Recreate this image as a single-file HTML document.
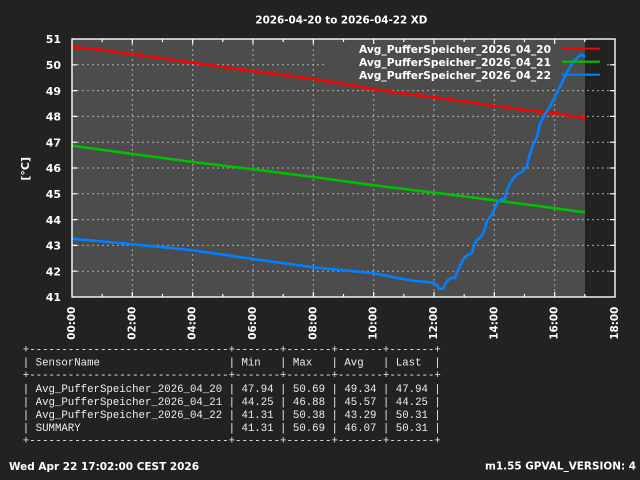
<!DOCTYPE html>
<html><head><meta charset="utf-8"><style>
html,body{margin:0;padding:0;background:#222222;}
svg{display:block;}
</style></head><body>
<svg width="640" height="480" viewBox="0 0 640 480" xmlns="http://www.w3.org/2000/svg">
<rect x="0" y="0" width="640" height="480" fill="#222222"/>
<!-- plot background (data range) -->
<rect x="72" y="39" width="513" height="258" fill="#4c4c4c"/>
<!-- grid -->
<g stroke="#aaaaaa" stroke-width="1" stroke-dasharray="2,3" fill="none">
<line x1="72" y1="64.8" x2="615" y2="64.8"/>
<line x1="72" y1="90.6" x2="615" y2="90.6"/>
<line x1="72" y1="116.4" x2="615" y2="116.4"/>
<line x1="72" y1="142.2" x2="615" y2="142.2"/>
<line x1="72" y1="168" x2="615" y2="168"/>
<line x1="72" y1="193.8" x2="615" y2="193.8"/>
<line x1="72" y1="219.6" x2="615" y2="219.6"/>
<line x1="72" y1="245.4" x2="615" y2="245.4"/>
<line x1="72" y1="271.2" x2="615" y2="271.2"/>
<line x1="132.33" y1="39" x2="132.33" y2="297"/>
<line x1="192.67" y1="39" x2="192.67" y2="297"/>
<line x1="253" y1="39" x2="253" y2="297"/>
<line x1="313.33" y1="39" x2="313.33" y2="297"/>
<line x1="373.67" y1="39" x2="373.67" y2="297"/>
<line x1="434" y1="39" x2="434" y2="297"/>
<line x1="494.33" y1="39" x2="494.33" y2="297"/>
<line x1="554.67" y1="39" x2="554.67" y2="297"/>
</g>
<!-- legend occluder -->
<rect x="325" y="40" width="260" height="46" fill="#4c4c4c"/>
<rect x="585" y="40" width="21" height="46" fill="#222222"/>
<!-- ticks -->
<g stroke="#ffffff" stroke-width="1.2">
<path d="M132.33 297v-5M192.67 297v-5M253 297v-5M313.33 297v-5M373.67 297v-5M434 297v-5M494.33 297v-5M554.67 297v-5
M102.17 297v-3M162.5 297v-3M222.83 297v-3M283.17 297v-3M343.5 297v-3M403.83 297v-3M464.17 297v-3M524.5 297v-3M584.83 297v-3
M132.33 39v5M192.67 39v5M253 39v5M313.33 39v5M373.67 39v5M434 39v5M494.33 39v5M554.67 39v5
M102.17 39v3M162.5 39v3M222.83 39v3M283.17 39v3M343.5 39v3M403.83 39v3M464.17 39v3M524.5 39v3M584.83 39v3
M72 64.8h5M72 90.6h5M72 116.4h5M72 142.2h5M72 168h5M72 193.8h5M72 219.6h5M72 245.4h5M72 271.2h5
M615 64.8h-5M615 90.6h-5M615 116.4h-5M615 142.2h-5M615 168h-5M615 193.8h-5M615 219.6h-5M615 245.4h-5M615 271.2h-5"/>
</g>
<!-- series -->
<g fill="none" stroke-width="2.6" stroke-linejoin="round">
<polyline stroke="#ff0000" points="72,47 102,50 132.7,54.3 163,58.5 193,62.7 223,67 253,71 283,75 313.5,79 344,84 374,89.3 404,93.5 434.5,97.3 465,101.5 495,106 525,110 555.5,113.3 570,116 585,117.7"/>
<polyline stroke="#00c000" points="72,145.7 132.7,154 193,162 253,169.3 313.5,177 374,185.3 434.5,192.7 495,200.3 555.5,208.3 585,212.3"/>
<polyline stroke="#0080ff" points="72,238.7 132.7,244.3 193,250.3 253,259 313.5,267.3 374,273.3 400,278.5 412,280.5 433,282.7 437,285 439,288.7 443,288.7 445,284 448,280 451,278 455,278 457,272 460,266 463,260 465,257 468,255 472,253 474,245 477,240 481,237 484,231.7 487,221 491,216 494,210 498,202 501,199.3 505,198.7 507,190 510,183.3 514,177.3 518,174 523,171 527,166 529,157 533,145 537,137 540,124 545,114 550,106.7 556.7,93.3 563.3,80 568.3,70 573.3,61.7 578.3,56.7 581.7,54.5 585,56.8"/>
</g>
<!-- legend -->
<g font-family="DejaVu Sans, Liberation Sans, sans-serif" font-weight="bold" font-size="11" fill="#ffffff" text-anchor="end">
<text x="551" y="53" textLength="192" lengthAdjust="spacingAndGlyphs">Avg_PufferSpeicher_2026_04_20</text>
<text x="551" y="66" textLength="192" lengthAdjust="spacingAndGlyphs">Avg_PufferSpeicher_2026_04_21</text>
<text x="551" y="79" textLength="192" lengthAdjust="spacingAndGlyphs">Avg_PufferSpeicher_2026_04_22</text>
</g>
<line x1="562" y1="48.7" x2="600" y2="48.7" stroke="#ff0000" stroke-width="2.2"/>
<line x1="562" y1="61.7" x2="600" y2="61.7" stroke="#00c000" stroke-width="2.2"/>
<line x1="562" y1="74.7" x2="600" y2="74.7" stroke="#0080ff" stroke-width="2.2"/>
<!-- border -->
<rect x="72" y="39" width="543" height="258" fill="none" stroke="#ffffff" stroke-width="1.4"/>
<!-- title -->
<text x="341.4" y="23.3" text-anchor="middle" font-family="DejaVu Sans, Liberation Sans, sans-serif" font-weight="bold" font-size="11" fill="#ffffff" textLength="172" lengthAdjust="spacingAndGlyphs">2026-04-20 to 2026-04-22 XD</text>
<!-- y tick labels -->
<g font-family="DejaVu Sans, Liberation Sans, sans-serif" font-weight="bold" font-size="11" fill="#ffffff" text-anchor="end">
<text x="61" y="43.2">51</text>
<text x="61" y="69">50</text>
<text x="61" y="94.8">49</text>
<text x="61" y="120.6">48</text>
<text x="61" y="146.4">47</text>
<text x="61" y="172.2">46</text>
<text x="61" y="198">45</text>
<text x="61" y="223.8">44</text>
<text x="61" y="249.6">43</text>
<text x="61" y="275.4">42</text>
<text x="61" y="301.2">41</text>
</g>
<!-- y axis label -->
<text transform="translate(29,168.8) rotate(-90)" text-anchor="middle" font-family="DejaVu Sans, Liberation Sans, sans-serif" font-weight="bold" font-size="11" fill="#ffffff">[°C]</text>
<!-- x tick labels -->
<g font-family="DejaVu Sans, Liberation Sans, sans-serif" font-weight="bold" font-size="11" fill="#ffffff" text-anchor="end">
<text transform="translate(75,306.7) rotate(-90)" textLength="33" lengthAdjust="spacingAndGlyphs">00:00</text>
<text transform="translate(135.33,306.7) rotate(-90)" textLength="33" lengthAdjust="spacingAndGlyphs">02:00</text>
<text transform="translate(195.67,306.7) rotate(-90)" textLength="33" lengthAdjust="spacingAndGlyphs">04:00</text>
<text transform="translate(256,306.7) rotate(-90)" textLength="33" lengthAdjust="spacingAndGlyphs">06:00</text>
<text transform="translate(316.33,306.7) rotate(-90)" textLength="33" lengthAdjust="spacingAndGlyphs">08:00</text>
<text transform="translate(376.67,306.7) rotate(-90)" textLength="33" lengthAdjust="spacingAndGlyphs">10:00</text>
<text transform="translate(437,306.7) rotate(-90)" textLength="33" lengthAdjust="spacingAndGlyphs">12:00</text>
<text transform="translate(497.33,306.7) rotate(-90)" textLength="33" lengthAdjust="spacingAndGlyphs">14:00</text>
<text transform="translate(557.67,306.7) rotate(-90)" textLength="33" lengthAdjust="spacingAndGlyphs">16:00</text>
<text transform="translate(618,306.7) rotate(-90)" textLength="33" lengthAdjust="spacingAndGlyphs">18:00</text>
</g>
<!-- table -->
<g font-family="Liberation Mono, DejaVu Sans Mono, monospace" font-size="10.7" fill="#eeeeee">
<text x="22.8" y="352.7" textLength="418" lengthAdjust="spacingAndGlyphs">+-------------------------------+-------+-------+-------+-------+</text>
<text x="22.8" y="365.7" textLength="418" lengthAdjust="spacingAndGlyphs">|&#160;SensorName&#160;&#160;&#160;&#160;&#160;&#160;&#160;&#160;&#160;&#160;&#160;&#160;&#160;&#160;&#160;&#160;&#160;&#160;&#160;&#160;|&#160;Min&#160;&#160;&#160;|&#160;Max&#160;&#160;&#160;|&#160;Avg&#160;&#160;&#160;|&#160;Last&#160;&#160;|</text>
<text x="22.8" y="378.0" textLength="418" lengthAdjust="spacingAndGlyphs">+-------------------------------+-------+-------+-------+-------+</text>
<text x="22.8" y="392.1" textLength="418" lengthAdjust="spacingAndGlyphs">|&#160;Avg_PufferSpeicher_2026_04_20&#160;|&#160;47.94&#160;|&#160;50.69&#160;|&#160;49.34&#160;|&#160;47.94&#160;|</text>
<text x="22.8" y="405.1" textLength="418" lengthAdjust="spacingAndGlyphs">|&#160;Avg_PufferSpeicher_2026_04_21&#160;|&#160;44.25&#160;|&#160;46.88&#160;|&#160;45.57&#160;|&#160;44.25&#160;|</text>
<text x="22.8" y="418.0" textLength="418" lengthAdjust="spacingAndGlyphs">|&#160;Avg_PufferSpeicher_2026_04_22&#160;|&#160;41.31&#160;|&#160;50.38&#160;|&#160;43.29&#160;|&#160;50.31&#160;|</text>
<text x="22.8" y="431.1" textLength="418" lengthAdjust="spacingAndGlyphs">|&#160;SUMMARY&#160;&#160;&#160;&#160;&#160;&#160;&#160;&#160;&#160;&#160;&#160;&#160;&#160;&#160;&#160;&#160;&#160;&#160;&#160;&#160;&#160;&#160;&#160;|&#160;41.31&#160;|&#160;50.69&#160;|&#160;46.07&#160;|&#160;50.31&#160;|</text>
<text x="22.8" y="443.3" textLength="418" lengthAdjust="spacingAndGlyphs">+-------------------------------+-------+-------+-------+-------+</text>
</g>
<!-- footer -->
<text x="9" y="470" font-family="DejaVu Sans, Liberation Sans, sans-serif" font-weight="bold" font-size="11" fill="#ffffff" textLength="190" lengthAdjust="spacingAndGlyphs">Wed Apr 22 17:02:00 CEST 2026</text>
<text x="636" y="469.5" text-anchor="end" font-family="DejaVu Sans, Liberation Sans, sans-serif" font-weight="bold" font-size="11" fill="#ffffff" textLength="151" lengthAdjust="spacingAndGlyphs">m1.55 GPVAL_VERSION: 4</text>
</svg>
</body></html>
